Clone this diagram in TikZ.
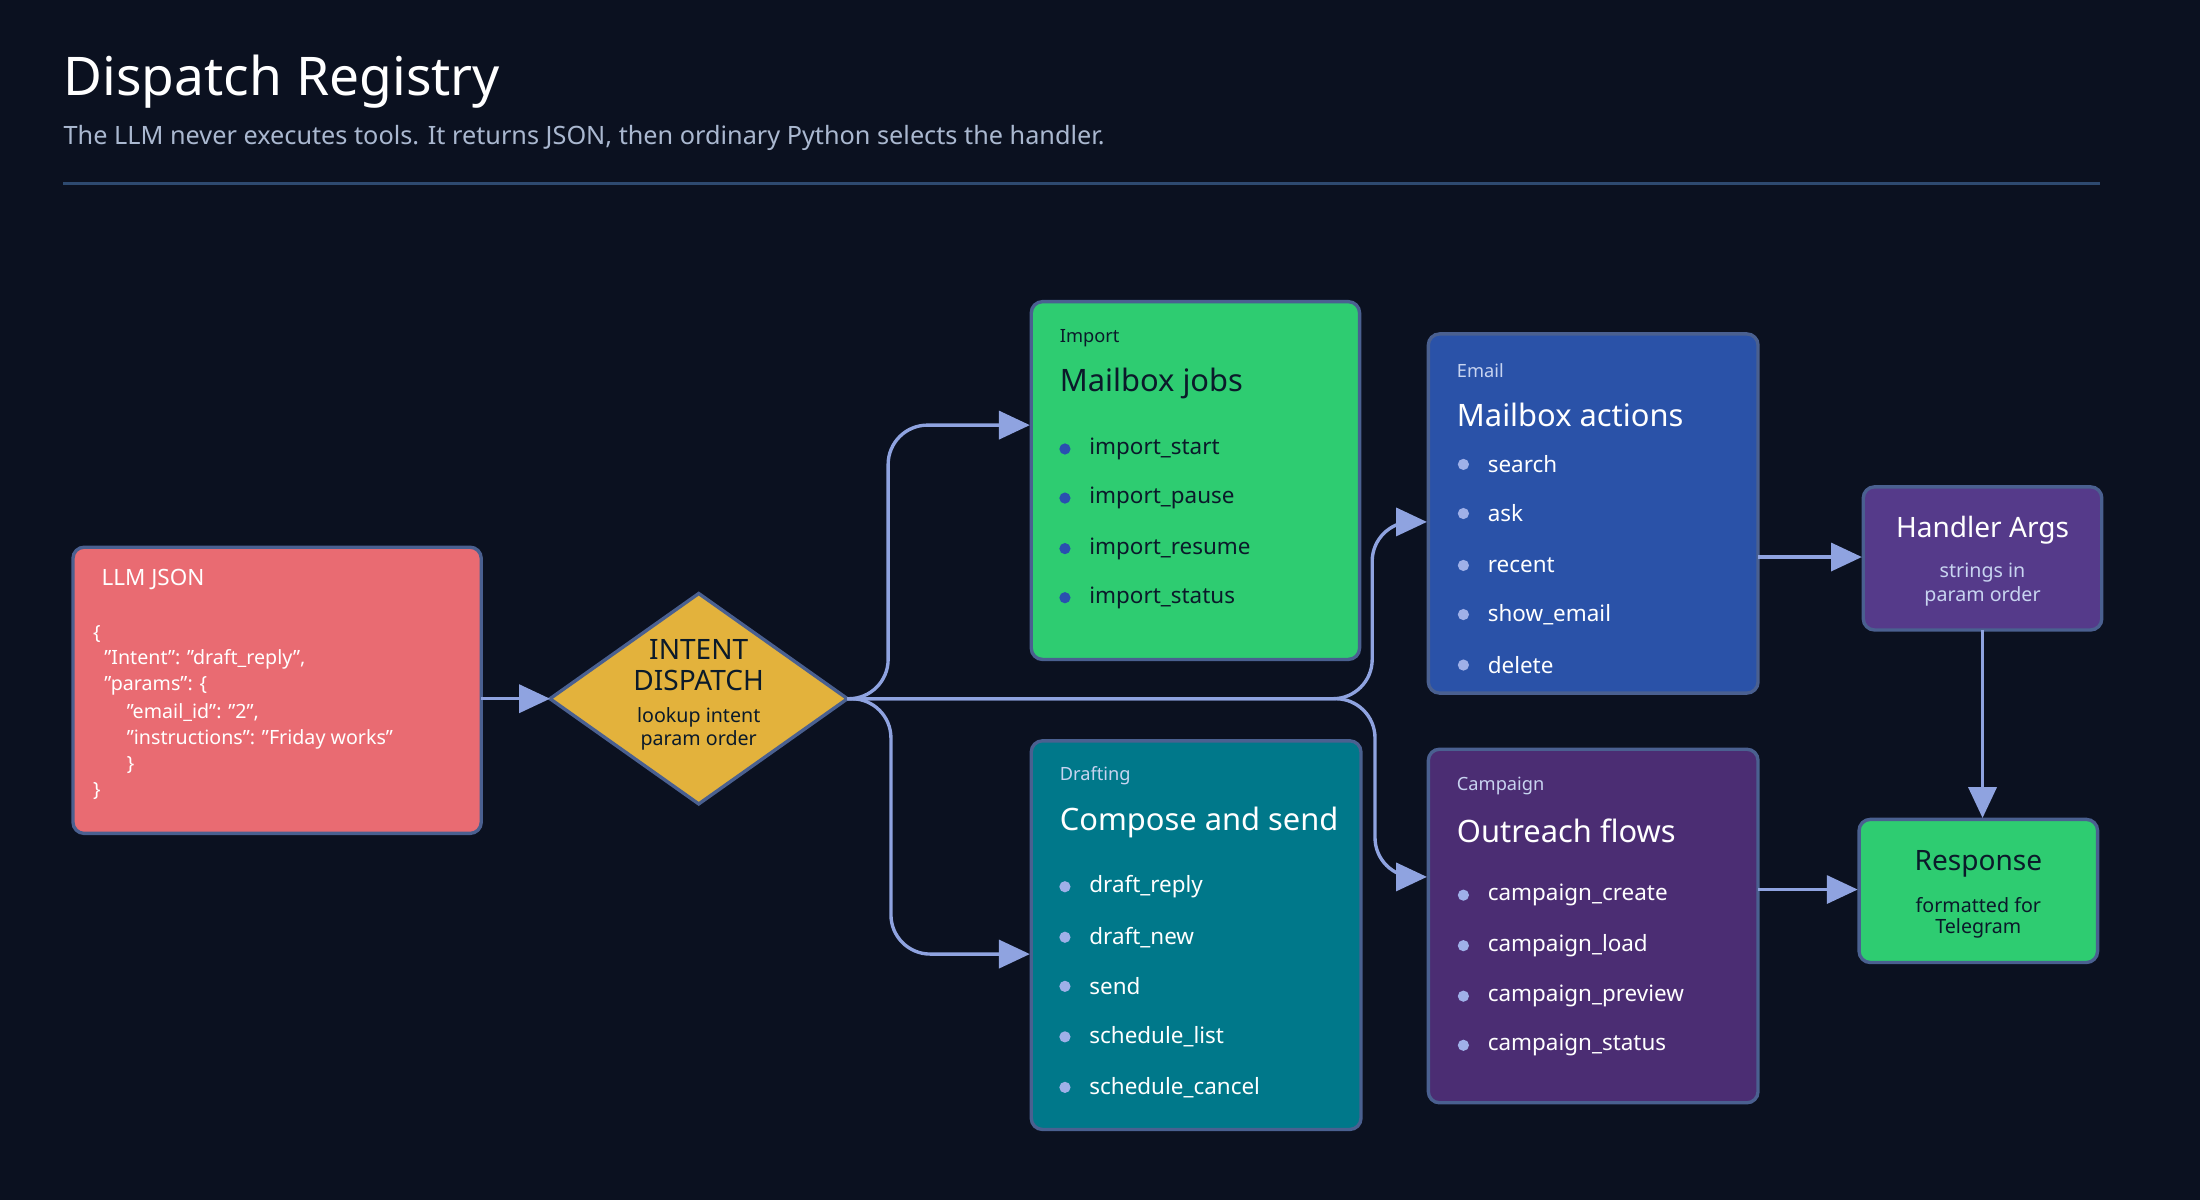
\documentclass[tikz,border=0pt]{standalone}
\usepackage{fontspec}
\setmainfont{Noto Sans}
\usetikzlibrary{arrows.meta,shapes.geometric}
\definecolor{bg}{HTML}{0B1120}
\definecolor{bd}{HTML}{4A6090}
\definecolor{cred}{HTML}{E96B72}
\definecolor{cyel}{HTML}{E3B23C}
\definecolor{cgrn}{HTML}{2ECC71}
\definecolor{cblu}{HTML}{2A52A8}
\definecolor{cteal}{HTML}{00788A}
\definecolor{cpur}{HTML}{4B2D73}
\definecolor{cpur2}{HTML}{553A8A}
\definecolor{conn}{HTML}{8FA3E0}
\definecolor{dark}{HTML}{0B1A2A}
\definecolor{lbl}{HTML}{C8D4F0}
\definecolor{sub}{HTML}{AAB8D0}
\definecolor{rule}{HTML}{2E4A70}
\definecolor{bulletd}{HTML}{2A4FB0}
\definecolor{bulletl}{HTML}{9FB0E8}
\tikzset{
 box/.style={draw=bd,line width=1.2pt,rounded corners=4pt},
 conline/.style={draw=conn,line width=1.2pt,rounded corners=14pt,-{Triangle[length=11pt,width=10pt]}},
 tag/.style={anchor=west,inner sep=0,font=\bfseries\fontsize{6.5}{8}\selectfont},
 ttl/.style={anchor=west,inner sep=0,font=\bfseries\fontsize{11}{13}\selectfont},
 item/.style={anchor=west,inner sep=0,font=\fontsize{8}{10}\selectfont},
 code/.style={anchor=west,inner sep=0,font=\bfseries\fontsize{7}{9}\selectfont,text=white},
}
\begin{document}
\begin{tikzpicture}[x=0.5pt,y=-0.5pt]
\fill[bg] (0,0) rectangle (1568,855);
\useasboundingbox (0,0) rectangle (1568,855);
\node[anchor=west,inner sep=0,text=white,font=\bfseries\fontsize{19}{22}\selectfont] (title) at (45,58) {Dispatch Registry};
\node[anchor=west,inner sep=0,text=sub,font=\fontsize{9}{11}\selectfont] (subt) at (45,98) {The LLM never executes tools. It returns JSON, then ordinary Python selects the handler.};
\draw[rule,line width=1pt] (45,131) -- (1497,131);

% LLM JSON
\draw[box,fill=cred] (52,390) rectangle (343,594);
\coordinate (llmE) at (343,498);
\node[tag,text=white,font=\bfseries\fontsize{8}{10}\selectfont] (llmt) at (72,413) {LLM JSON};
\node[code] (c1) at (66,452) {\{};
\node[code] (c2) at (74,470) {"Intent": "draft\_reply",};
\node[code] (c3) at (74,489) {"params": \{};
\node[code] (c4) at (90,508) {"email\_id": "2",};
\node[code] (c5) at (90,527) {"instructions": "Friday works"};
\node[code] (c6) at (90,545) {\}};
\node[code] (c7) at (66,564) {\}};

% diamond
\draw[bd,line width=1.2pt,fill=cyel] (392,498) -- (498,423) -- (604,498) -- (498,573) -- cycle;
\coordinate (dW) at (392,498);
\coordinate (dE) at (604,498);
\node[inner sep=0,text=dark,font=\bfseries\fontsize{10}{12}\selectfont] (d1) at (498,463) {INTENT};
\node[inner sep=0,text=dark,font=\bfseries\fontsize{10}{12}\selectfont] (d2) at (498,485) {DISPATCH};
\node[inner sep=0,text=dark,font=\bfseries\fontsize{7}{9}\selectfont] (d3) at (498,511) {lookup intent};
\node[inner sep=0,text=dark,font=\bfseries\fontsize{7}{9}\selectfont] (d4) at (498,528) {param order};

% Import
\draw[box,fill=cgrn] (735,215) rectangle (969,470);
\node[tag,text=dark] (it) at (755,241) {Import};
\node[ttl,text=dark] (ih) at (755,273) {Mailbox jobs};
\foreach \t/\y in {import\_start/320,import\_pause/355,import\_resume/391,import\_status/426}{
 \fill[bulletd] (759,\y) circle (4);
 \node[item,text=dark] at (776,\y) {\t};}

% Drafting
\draw[box,fill=cteal] (735,528) rectangle (970,805);
\node[tag,text=lbl] (dt) at (755,553) {Drafting};
\node[ttl,text=white] (dh) at (755,586) {Compose and send};
\foreach \t/\y in {draft\_reply/632,draft\_new/668,send/703,schedule\_list/739,schedule\_cancel/775}{
 \fill[bulletl] (759,\y) circle (4);
 \node[item,text=white] at (776,\y) {\t};}

% Email
\draw[box,fill=cblu] (1018,238) rectangle (1253,494);
\node[tag,text=lbl] (et) at (1038,264) {Email};
\node[ttl,text=white] (eh) at (1038,296) {Mailbox actions};
\foreach \t/\y in {search/331,ask/366,recent/403,show\_email/438,delete/474}{
 \fill[bulletl] (1043,\y) circle (4);
 \node[item,text=white] at (1060,\y) {\t};}

% Campaign
\draw[box,fill=cpur] (1018,534) rectangle (1253,786);
\node[tag,text=lbl] (ct) at (1038,560) {Campaign};
\node[ttl,text=white] (ch) at (1038,592) {Outreach flows};
\foreach \t/\y in {campaign\_create/638,campaign\_load/674,campaign\_preview/710,campaign\_status/745}{
 \fill[bulletl] (1043,\y) circle (4);
 \node[item,text=white] at (1060,\y) {\t};}

% Handler Args
\draw[box,fill=cpur2] (1328,347) rectangle (1498,449);
\node[inner sep=0,text=white,font=\bfseries\fontsize{10}{12}\selectfont] (hh) at (1413,378) {Handler Args};
\node[inner sep=0,text=lbl,font=\fontsize{7}{9}\selectfont] (h1) at (1413,408) {strings in};
\node[inner sep=0,text=lbl,font=\fontsize{7}{9}\selectfont] (h2) at (1413,425) {param order};

% Response
\draw[box,fill=cgrn] (1325,584) rectangle (1495,686);
\node[inner sep=0,text=dark,font=\bfseries\fontsize{10}{12}\selectfont] (rh) at (1410,616) {Response};
\node[inner sep=0,text=dark,font=\bfseries\fontsize{7}{9}\selectfont] (r1) at (1410,645) {formatted for};
\node[inner sep=0,text=dark,font=\bfseries\fontsize{7}{9}\selectfont] (r2) at (1410,662) {Telegram};

% connectors
\coordinate (impW) at (734,303);
\coordinate (draW) at (734,680);
\coordinate (emW) at (1017,372);
\coordinate (caW) at (1017,625);
\draw[conline] (llmE) -- (dW);
\draw[conline] (dE) -- (633,498) -- (633,303) -- (impW);
\draw[conline] (dE) -- (635,498) -- (635,680) -- (draW);
\draw[conline] (dE) -- (978,498) -- (978,372) -- (emW);
\draw[conline] (dE) -- (980,498) -- (980,625) -- (caW);
\coordinate (emE) at (1253,397); \coordinate (haW) at (1327,397);
\draw[conline] (emE) -- (haW);
\coordinate (caE) at (1253,634); \coordinate (reW) at (1324,634);
\draw[conline] (caE) -- (reW);
\coordinate (haS) at (1413,449); \coordinate (reN) at (1413,583);
\draw[conline] (haS) -- (reN);
\end{tikzpicture}
\end{document}
